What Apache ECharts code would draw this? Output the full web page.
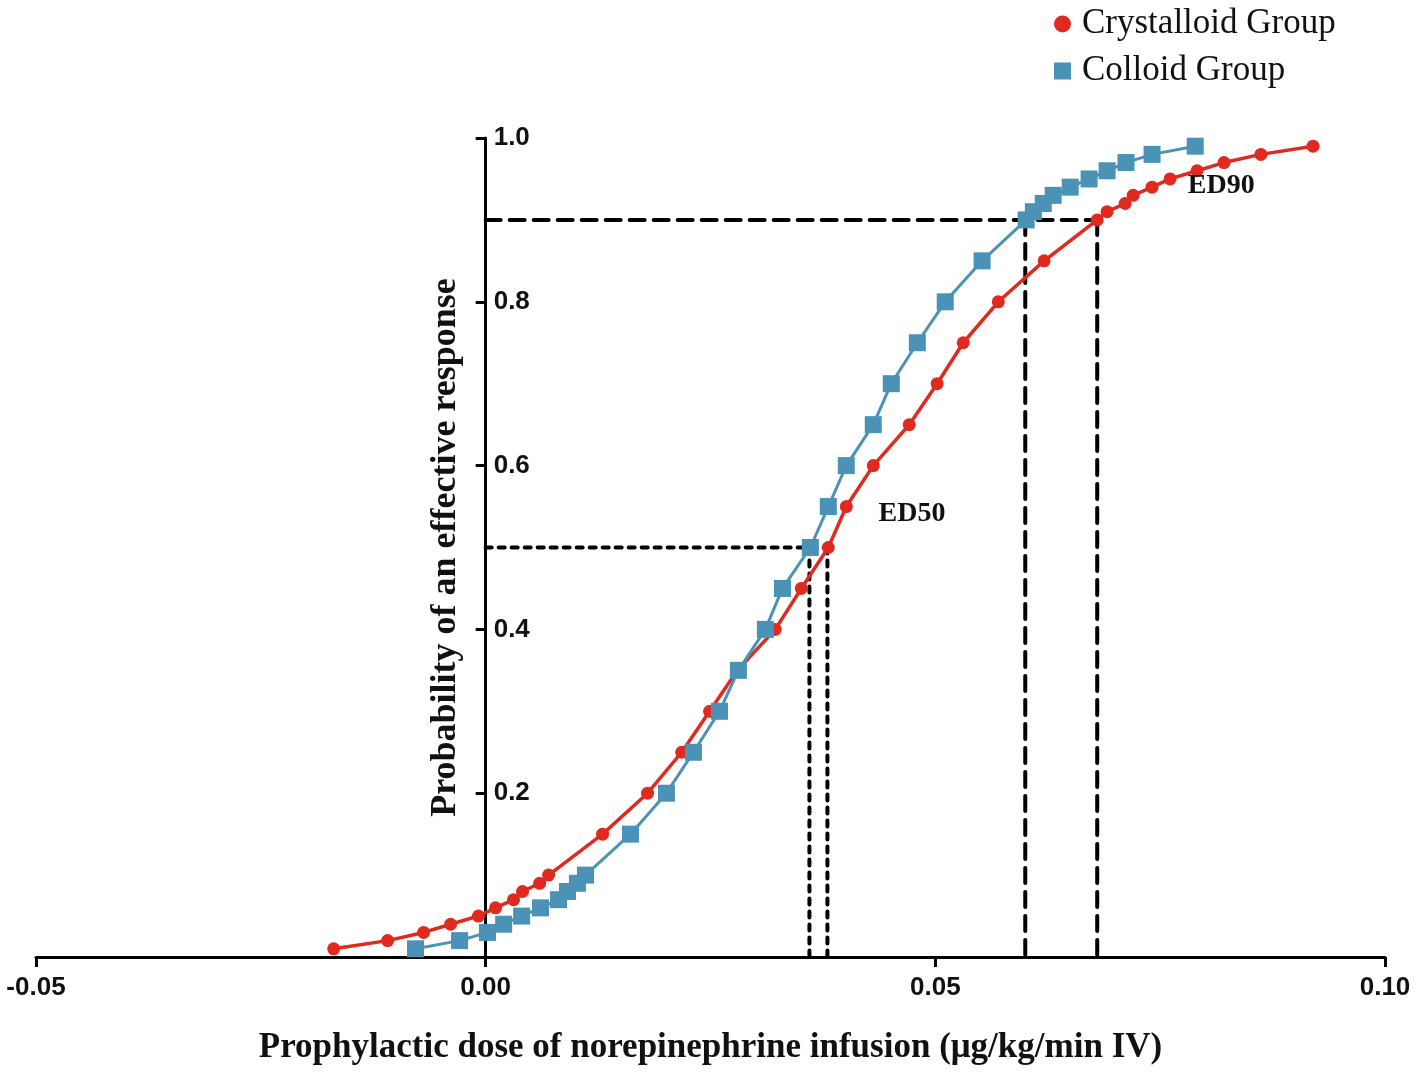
<!DOCTYPE html>
<html>
<head>
<meta charset="utf-8">
<title>Probit dose-response</title>
<script src="https://cdn.jsdelivr.net/npm/echarts@6/dist/echarts.min.js"></script>
<style>
  html, body { margin: 0; padding: 0; background: #fff; }
  #main { width: 1418px; height: 1073px; }
</style>
</head>
<body>
<div id="main"></div>
<script>
// probability levels of the probit fit (shared by both groups)
const probs = [
  0.01, 0.02, 0.03, 0.04, 0.05, 0.06, 0.07, 0.08, 0.09, 0.10,
  0.15, 0.20, 0.25, 0.30, 0.35, 0.40, 0.45, 0.50, 0.55, 0.60,
  0.65, 0.70, 0.75, 0.80, 0.85, 0.90,
  0.91, 0.92, 0.93, 0.94, 0.95, 0.96, 0.97, 0.98, 0.99
]
// dose (µg/kg/min) at each probability
const crystalloidDose = [
  -0.0169, -0.0109, -0.0069, -0.0039, -0.0008, 0.0011, 0.0031, 0.0041, 0.0060, 0.0070,
  0.0130, 0.0180, 0.0218, 0.0249, 0.0280, 0.0322, 0.0351, 0.0381, 0.0401, 0.0431,
  0.0471, 0.0502, 0.0531, 0.0570, 0.0621, 0.0680,
  0.0691, 0.0711, 0.0720, 0.0741, 0.0761, 0.0791, 0.0821, 0.0862, 0.0920
]
const colloidDose = [
  -0.0078, -0.0029, 0.0002, 0.0020, 0.0040, 0.0061, 0.0081, 0.0091, 0.0102, 0.0111,
  0.0161, 0.0201, 0.0231, 0.0260, 0.0281, 0.0311, 0.0330, 0.0361, 0.0381, 0.0401,
  0.0431, 0.0451, 0.0480, 0.0511, 0.0552, 0.0601,
  0.0609, 0.0620, 0.0631, 0.0650, 0.0671, 0.0691, 0.0712, 0.0741, 0.0789
]
// effective doses: [colloid, crystalloid]
const ed50 = [0.036, 0.038]
const ed90 = [0.060, 0.068]
const xTicks = [-0.05, 0.00, 0.05, 0.10]
const yTicks = [0.2, 0.4, 0.6, 0.8, 1.0]

const serif = '"Liberation Serif", "Times New Roman", serif'
const sans = '"Liberation Sans", Arial, sans-serif'
const RED = '#e0291f'
const BLUE = '#4a93b7'

const GRID_LEFT = 36
const GRID_RIGHT = 33

function pairs(xs, ys) {
  return xs.map((x, i) => [x, ys[i]])
}

// reference lines for one ED level: horizontal from the y axis, verticals down to x axis
function edLines(doses, p, dash, id) {
  const out = []
  const maxDose = Math.max(...doses)
  const style = { color: '#000', width: 4, type: dash, cap: 'round' }
  out.push({
    id: id + '-h',
    type: 'line',
    data: [[0, p], [maxDose, p]],
    symbol: 'none',
    silent: true,
    z: 1,
    lineStyle: style
  })
  doses.forEach((d, i) => {
    out.push({
      id: id + '-v' + i,
      type: 'line',
      data: [[d, p], [d, 0]],
      symbol: 'none',
      silent: true,
      z: 1,
      lineStyle: style
    })
  })
  return out
}

const chart = echarts.init(document.getElementById('main'))

// the y axis sits at dose 0, i.e. shifted right from the grid's left edge
const plotWidth = 1418 - GRID_LEFT - GRID_RIGHT
const xMin = xTicks[0]
const xMax = xTicks[xTicks.length - 1]
const yAxisShift = plotWidth * (0 - xMin) / (xMax - xMin)

const option = {
  animation: false,
  backgroundColor: '#fff',
  grid: { left: GRID_LEFT, right: GRID_RIGHT, top: 138, bottom: 116, outerBoundsMode: 'none', containLabel: false },
  legend: {
    orient: 'vertical',
    left: 1049,
    top: 0,
    itemWidth: 17,
    itemHeight: 17,
    itemGap: 9,
    data: [
      { name: 'Crystalloid Group', icon: 'circle' },
      { name: 'Colloid Group', icon: 'rect' }
    ],
    textStyle: {
      fontFamily: serif,
      fontSize: 35,
      color: '#111',
      lineHeight: 38,
      padding: [0, 0, 0, 6]
    }
  },
  xAxis: {
    type: 'value',
    min: xMin,
    max: xMax,
    interval: 0.05,
    name: 'Prophylactic dose of norepinephrine infusion (μg/kg/min IV)',
    nameLocation: 'middle',
    nameGap: 73,
    nameTextStyle: { fontFamily: serif, fontSize: 35, fontWeight: 'bold', color: '#111' },
    axisLine: { onZero: false, lineStyle: { color: '#000', width: 3 } },
    axisTick: { length: 10, lineStyle: { color: '#000', width: 3 } },
    axisLabel: {
      margin: 18,
      fontFamily: sans,
      fontSize: 26,
      fontWeight: 'bold',
      color: '#111',
      formatter: v => v.toFixed(2)
    },
    splitLine: { show: false }
  },
  yAxis: {
    type: 'value',
    min: 0,
    max: yTicks[yTicks.length - 1],
    interval: 0.2,
    offset: -yAxisShift,
    name: 'Probability of an effective response',
    nameLocation: 'middle',
    nameRotate: 90,
    nameGap: 22,
    nameTextStyle: { fontFamily: serif, fontSize: 36, fontWeight: 'bold', color: '#111' },
    axisLine: { onZero: false, lineStyle: { color: '#000', width: 3 } },
    axisTick: { length: 10, lineStyle: { color: '#000', width: 3 } },
    axisLabel: {
      inside: true,
      margin: 8,
      fontFamily: sans,
      fontSize: 26,
      fontWeight: 'bold',
      color: '#111',
      formatter: v => (yTicks.some(t => Math.abs(t - v) < 1e-9) ? v.toFixed(1) : '')
    },
    splitLine: { show: false }
  },
  series: [
    ...edLines(ed50, 0.5, [6, 7], 'ed50'),
    ...edLines(ed90, 0.9, [15, 9], 'ed90'),
    {
      name: 'Crystalloid Group',
      type: 'line',
      data: pairs(crystalloidDose, probs),
      symbol: 'circle',
      symbolSize: 13,
      z: 3,
      itemStyle: { color: RED },
      lineStyle: { color: RED, width: 3.5 },
      markPoint: {
        symbol: 'circle',
        symbolSize: 0,
        silent: true,
        label: {
          show: true,
          fontFamily: serif,
          fontSize: 28,
          fontWeight: 'bold',
          color: '#111'
        },
        data: [
          { coord: [0.0474, 0.541], value: 'ED50', label: { formatter: 'ED50' } },
          { coord: [0.0818, 0.942], value: 'ED90', label: { formatter: 'ED90' } }
        ]
      }
    },
    {
      name: 'Colloid Group',
      type: 'line',
      data: pairs(colloidDose, probs),
      symbol: 'rect',
      symbolSize: 17,
      z: 4,
      itemStyle: { color: BLUE },
      lineStyle: { color: BLUE, width: 3 }
    }
  ]
}

chart.setOption(option)
</script>
</body>
</html>
